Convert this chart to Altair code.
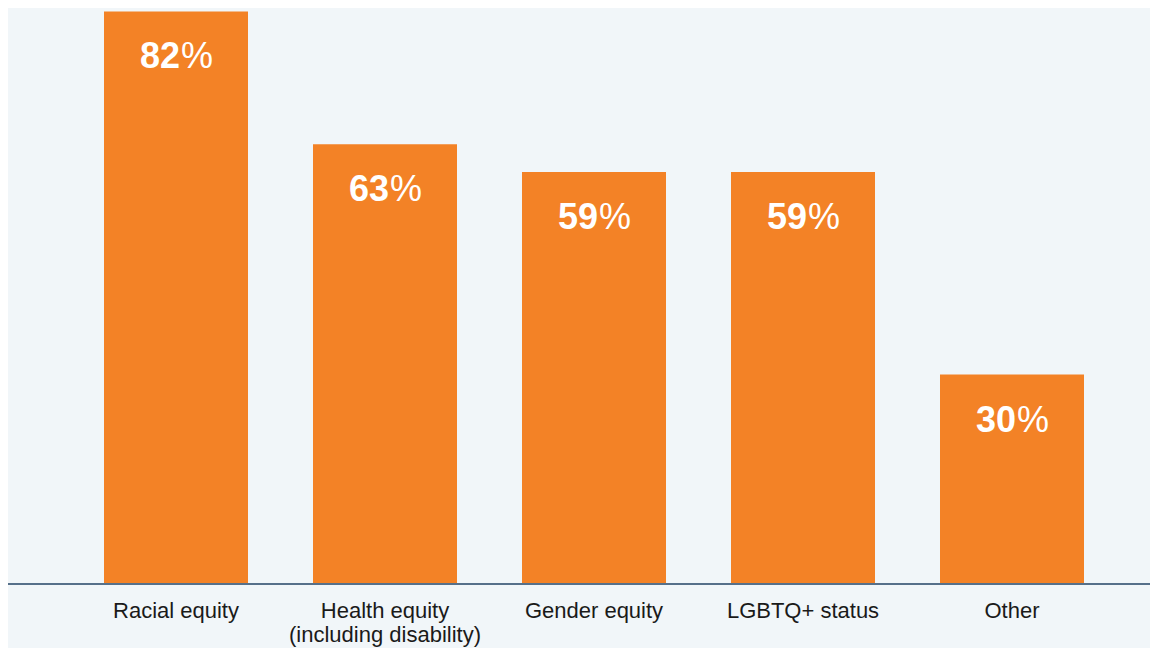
import altair as alt
import pandas as pd

categories = ["Racial equity", "Health equity\n(including disability)", "Gender equity", "LGBTQ+ status", "Other"]
values = [82, 63, 59, 59, 30]

df = pd.DataFrame({"cat": categories, "val": values})
df["num"] = df["val"].astype(str)
df["pct"] = "%"

FONT = "Liberation Sans"
BG = "#f1f6f9"
ORANGE = "#f38226"

x = alt.X("cat:N", sort=categories, axis=None,
          scale=alt.Scale(range=[96, 1076], paddingInner=0.311, paddingOuter=0))
y = alt.Y("val:Q", axis=None, scale=alt.Scale(domain=[0, 82.5], nice=False, zero=True))

base = alt.Chart(df)

bars = base.mark_bar(color=ORANGE, cornerRadius=0).encode(x=x, y=y)

nums = base.mark_text(font=FONT, fontSize=36, fontWeight="bold", color="white",
                      align="right", baseline="middle", dx=4, dy=46).encode(x=x, y=y, text="num:N")
pcts = base.mark_text(font=FONT, fontSize=36, fontWeight="normal", color="white",
                      align="left", baseline="middle", dx=5, dy=46).encode(x=x, y=y, text="pct:N")

labels = base.mark_text(font=FONT, fontSize=22, color="#1a1a1a", align="center",
                        baseline="alphabetic", lineBreak="\n", lineHeight=24).encode(
    x=x, y=alt.value(610), text="cat:N")

rule = base.mark_rule(color="#56708a", strokeWidth=2).encode(
    x=alt.value(0), x2=alt.value(1142), y=alt.value(576))

chart = alt.layer(bars, rule, nums, pcts, labels).properties(
    width=1142, height=576,
    autosize=alt.AutoSizeParams(type="none"),
    padding={"left": 0, "top": 0, "right": 0, "bottom": 64},
    background=BG,
).configure_view(stroke=None)

chart.save("out.html", embed_options={"renderer": "svg", "actions": False})
